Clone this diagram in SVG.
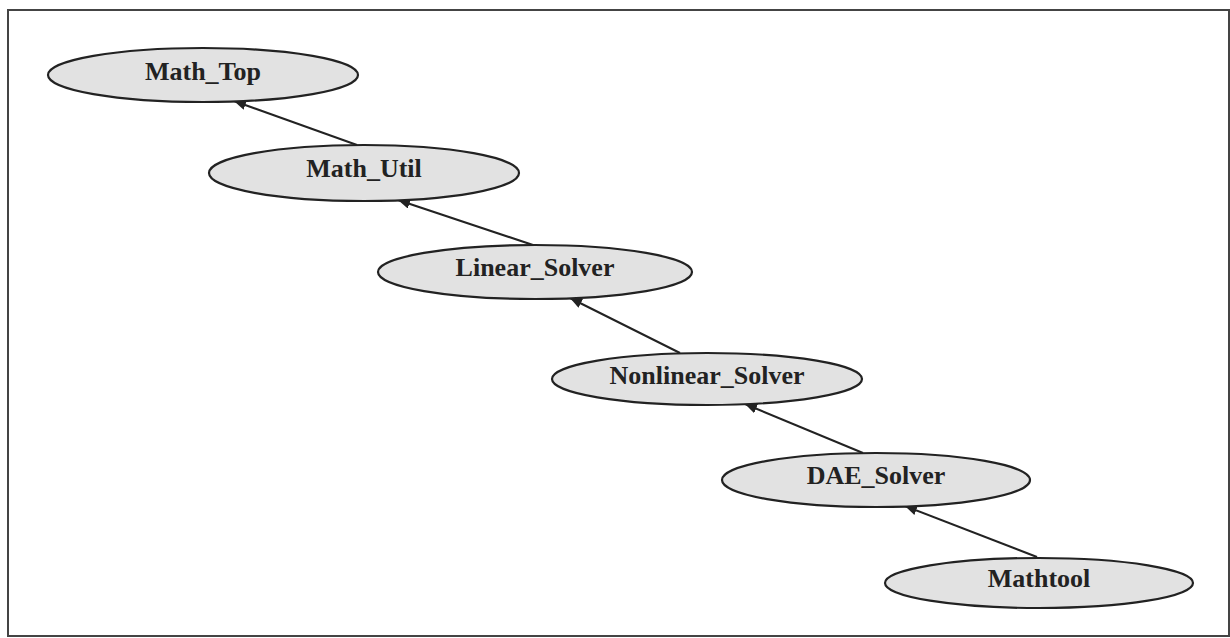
<svg xmlns="http://www.w3.org/2000/svg" width="1230" height="638" viewBox="0 0 1230 638">
  <defs>
    <marker id="arrow" viewBox="0 0 12 10" refX="12" refY="5" markerWidth="12" markerHeight="10" markerUnits="userSpaceOnUse" orient="auto">
      <path d="M0,0 L12,5 L0,10 Z" fill="#222"/>
    </marker>
    <style>
      .node ellipse { fill: #e2e2e2; stroke: #222; stroke-width: 2.2; }
      .node text { font-family: "Liberation Serif", "Times New Roman", serif; font-weight: bold; font-size: 26px; fill: #222; text-anchor: middle; }
      .edge { stroke: #222; stroke-width: 2; fill: none; marker-end: url(#arrow); }
      .frame { fill: #fff; stroke: #444; stroke-width: 2; }
    </style>
  </defs>

  <rect x="0" y="0" width="1230" height="638" fill="#fff"/>
  <rect class="frame" x="8" y="10" width="1221" height="626"/>

  <!-- dependency arrows, each pointing at the module it uses -->
  <g id="connectors">
    <line class="edge" x1="357" y1="145" x2="234" y2="101"/>
    <line class="edge" x1="533" y1="245" x2="398" y2="200"/>
    <line class="edge" x1="680" y1="353" x2="570" y2="298"/>
    <line class="edge" x1="863" y1="453" x2="745" y2="404"/>
    <line class="edge" x1="1037" y1="557" x2="905" y2="506"/>
  </g>

  <g id="math_top" class="node">
    <ellipse cx="203" cy="75" rx="155" ry="27"/>
    <text x="203" y="80">Math_Top</text>
  </g>
  <g id="math_util" class="node">
    <ellipse cx="364" cy="173" rx="155" ry="28"/>
    <text x="364" y="177">Math_Util</text>
  </g>
  <g id="linear_solver" class="node">
    <ellipse cx="535" cy="272" rx="157" ry="27"/>
    <text x="535" y="276">Linear_Solver</text>
  </g>
  <g id="nonlinear_solver" class="node">
    <ellipse cx="707" cy="379" rx="155" ry="26"/>
    <text x="707" y="384">Nonlinear_Solver</text>
  </g>
  <g id="dae_solver" class="node">
    <ellipse cx="876" cy="480" rx="154" ry="27"/>
    <text x="876" y="484">DAE_Solver</text>
  </g>
  <g id="mathtool" class="node">
    <ellipse cx="1039" cy="583" rx="154" ry="25"/>
    <text x="1039" y="587">Mathtool</text>
  </g>
</svg>
